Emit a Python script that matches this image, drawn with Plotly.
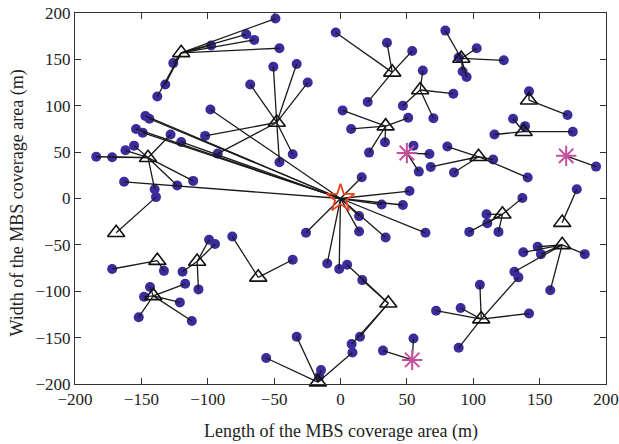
import plotly.graph_objects as go

# Stations: index 0 is the MBS (star); "sbs" = triangle; "ast" = asterisk
station_x = [0, -120, -145, -48, 39, 60, 34, 91, 104, 142, 138, 122, 167, 167, 106, 36, -17, -62, -108, -169, -138, -141, 50, 170, 54]
station_y = [0, 157, 44, 82, 136, 117, 78, 151, 45, 106, 72, -17, -26, -50, -130, -113, -198, -85, -68, -37, -67, -105, 49, 46, -174]
station_type = ["mbs"] + ["sbs"] * 21 + ["ast"] * 3

# Users and the station each one is linked to
user_x = [
    -126, -132, -138, -49, -71, -65, -97.5, -46,
    -184, -172, -162, -155.5, -128, -111, -123, -140,
    -147, -144, -154, -149, -120, -163, -98, 16, 52, 31, 47, 14, 14, 34, 64, -26, -10, -1,
    -50.6, -33, -24.7, -68, -102, -92.5, -36, -46,
    -3.6, 35, 54, 20.5,
    62, 85, 47, 70,
    1.6, 8, 51, 33.5, 21.5,
    55, 67, 59,
    79, 89, 92, 95, 102.6, 123,
    80.5, 68, 85.5, 115, 141,
    142, 171,
    130, 139, 116, 175,
    192.5,
    178,
    137, 110, 110.6, 97, 119,
    148.5, 137.7, 151, 184, 158, 131,
    134, 105, 142, 72, 90.5, 89,
    55, 32,
    5, 16.4, 14.7, 8.4,
    -14.7, -16, -33, -56, 9,
    -36, -81.5,
    -99, -94.5, -107, -119,
    -139,
    -172, -133,
    -143.5, -148, -117, -121, -112, -152,
]
user_y = [
    146, 123, 110, 194, 177, 171, 165, 162,
    45, 44.5, 52, 57, 69, 19, 14, 10,
    89, 86, 75, 71, 61, 18, 96, 23, 8, -6.5, -7, -19, -35.5, -42, -37, -37, -70, -76,
    142, 145, 125, 123, 67.5, 48.4, 47.7, 39,
    179, 168, 159, 104,
    138, 113, 100, 86.5,
    95, 75, 87, 60.6, 49.5,
    57, 48, 29,
    181, 152, 137, 131, 162, 149,
    56, 34, 28, 42, 22.6,
    115.5, 90,
    86, 78, 69, 72,
    34.4,
    10,
    0.5, -17, -26.6, -36, -36,
    -52, -58, -60, -60, -99, -79,
    -85, -93, -124, -121, -118, -161,
    -151, -164,
    -71.4, -88, -149, -157,
    -185, -192, -149, -172, -166,
    -66, -41,
    -44.5, -49, -98, -79,
    1.5,
    -76, -78,
    -95.5, -106, -92, -112, -132, -128,
]
user_station = (
    [1] * 8 + [2] * 8 + [0] * 18 + [3] * 8 + [4] * 4 + [5] * 4 + [6] * 5 + [22] * 3
    + [7] * 6 + [8] * 5 + [9] * 2 + [10] * 4 + [23] * 1 + [12] * 1 + [11] * 5
    + [13] * 6 + [14] * 6 + [24] * 2 + [15] * 4 + [16] * 5 + [17] * 2 + [18] * 4
    + [19] * 1 + [20] * 2 + [21] * 6
)

x_ticks = [-200, -150, -100, -50, 0, 50, 100, 150, 200]
y_ticks = [-200, -150, -100, -50, 0, 50, 100, 150, 200]
x_title = "Length of the MBS coverage area (m)"
y_title = "Width of the MBS coverage area (m)"

# Build link segments from the data
lx, ly = [], []
for ux, uy, s in zip(user_x, user_y, user_station):
    lx += [ux, station_x[s], None]
    ly += [uy, station_y[s], None]

fig = go.Figure()
fig.add_trace(go.Scatter(
    x=user_x, y=user_y, mode="markers",
    marker=dict(symbol="circle", size=10, color="#3a2d9b", line=dict(width=0)),
    cliponaxis=False, showlegend=False, hoverinfo="skip"))
fig.add_trace(go.Scatter(
    x=lx, y=ly, mode="lines", line=dict(color="#1a1a1a", width=1.3),
    showlegend=False, hoverinfo="skip"))

sx = [x for x, t in zip(station_x, station_type) if t == "sbs"]
sy = [y for y, t in zip(station_y, station_type) if t == "sbs"]
fig.add_trace(go.Scatter(
    x=sx, y=sy, mode="markers",
    marker=dict(symbol="triangle-up-open", size=15, color="#111111", line=dict(width=1.6)),
    cliponaxis=False, showlegend=False))
ax = [x for x, t in zip(station_x, station_type) if t == "ast"]
ay = [y for y, t in zip(station_y, station_type) if t == "ast"]
fig.add_trace(go.Scatter(
    x=ax, y=ay, mode="markers",
    marker=dict(symbol="asterisk-open", size=17, color="#c4509c", line=dict(width=2, color="#c4509c")),
    cliponaxis=False, showlegend=False))
mx = [x for x, t in zip(station_x, station_type) if t == "mbs"]
my = [y for y, t in zip(station_y, station_type) if t == "mbs"]
fig.add_trace(go.Scatter(
    x=mx, y=my, mode="markers",
    marker=dict(symbol="star-open", size=21, color="#f0401c", line=dict(width=1.8, color="#f0401c")),
    cliponaxis=False, showlegend=False))

axis_common = dict(
    showgrid=False, zeroline=False, showline=True, linecolor="#333333", linewidth=1,
    mirror="ticks", ticks="inside", ticklen=6, tickcolor="#333333", automargin=False,
    tickfont=dict(family="Liberation Serif", size=17, color="#222222"),
)
fig.update_xaxes(range=[-200, 200], tickvals=x_ticks, **axis_common)
fig.update_yaxes(range=[-200, 200], tickvals=y_ticks, **axis_common)
title_font = dict(family="Liberation Serif", size=18, color="#222222")
fig.update_layout(
    width=619, height=444, margin=dict(l=75, r=13, t=13, b=60),
    plot_bgcolor="white", paper_bgcolor="white",
    annotations=[
        dict(text=x_title, xref="paper", yref="paper", x=0.5, y=0, yshift=-47,
             xanchor="center", yanchor="middle", showarrow=False, font=title_font),
        dict(text=y_title, xref="paper", yref="paper", x=0, y=0.5, xshift=-58, yshift=-5,
             xanchor="center", yanchor="middle", textangle=-90, showarrow=False, font=title_font),
    ],
)
fig.write_html("out.html", config={"displayModeBar": False},
               post_script="document.body.style.margin='0';")
